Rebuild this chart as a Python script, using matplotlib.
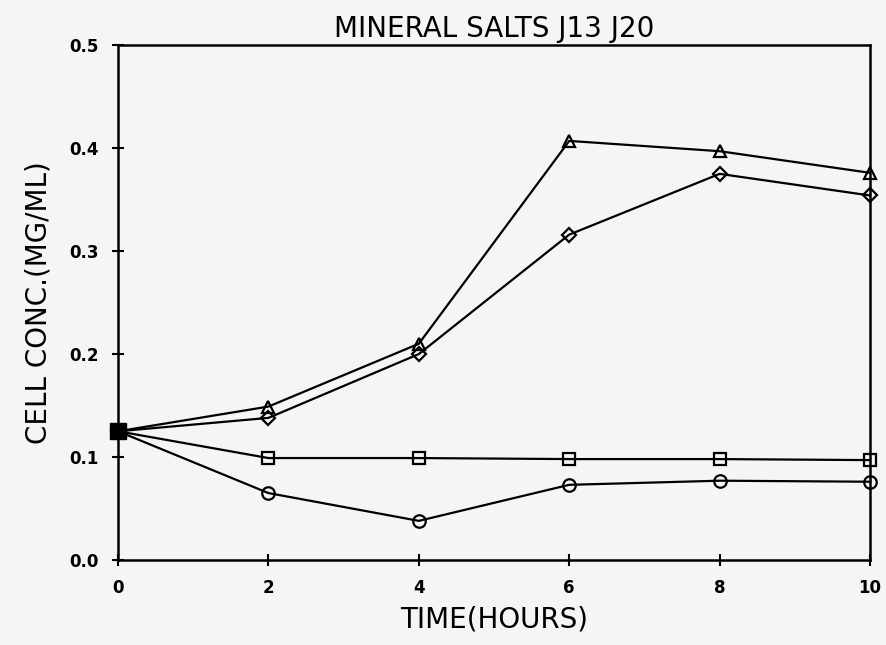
import matplotlib
matplotlib.use("Agg")
import matplotlib.pyplot as plt

# time points (hours)
hours = [0, 2, 4, 6, 8, 10]

# cell concentration (mg/ml) per series
triangle = [0.125, 0.149, 0.210, 0.407, 0.397, 0.376]
diamond = [0.125, 0.138, 0.200, 0.316, 0.375, 0.354]
square = [0.125, 0.099, 0.099, 0.098, 0.098, 0.097]
circle = [0.125, 0.065, 0.038, 0.073, 0.077, 0.076]

xticks = [0, 2, 4, 6, 8, 10]
yticks = [0.0, 0.1, 0.2, 0.3, 0.4, 0.5]

fig = plt.figure(figsize=(8.86, 6.45), dpi=100, facecolor="#f5f5f3")
ax = fig.add_axes([0.1332, 0.1318, 0.8488, 0.7982], facecolor="#f5f5f3")

style = dict(color="black", lw=1.6, mfc="none", mec="black", mew=1.6, clip_on=False, zorder=3)
ax.plot(hours, triangle, marker="^", ms=9, **style)
ax.plot(hours, diamond, marker="D", ms=7, **style)
ax.plot(hours, square, marker="s", ms=9, **style)
ax.plot(hours, circle, marker="o", ms=9, **style)
# the shared starting point is drawn as a filled block
ax.plot([hours[0]], [square[0]], marker="s", ms=11, color="black", clip_on=False, zorder=4)

ax.set_xlim(0, 10)
ax.set_ylim(0, 0.5)
ax.set_xticks(xticks)
ax.set_yticks(yticks)
ax.set_xticklabels([str(t) for t in xticks], fontweight="bold", fontsize=12)
ax.set_yticklabels([f"{t:.1f}" for t in yticks], fontweight="bold", fontsize=12)
ax.tick_params(direction="inout", length=8, width=1.5, pad=10)
for sp in ax.spines.values():
    sp.set_linewidth(1.8)

ax.set_xlabel("TIME(HOURS)", fontsize=20, labelpad=6)
ax.set_ylabel("CELL CONC.(MG/ML)", fontsize=20, labelpad=12)
ax.set_title("MINERAL SALTS J13 J20", fontsize=20, pad=6)

fig.savefig("out.png", dpi=100, facecolor=fig.get_facecolor())
